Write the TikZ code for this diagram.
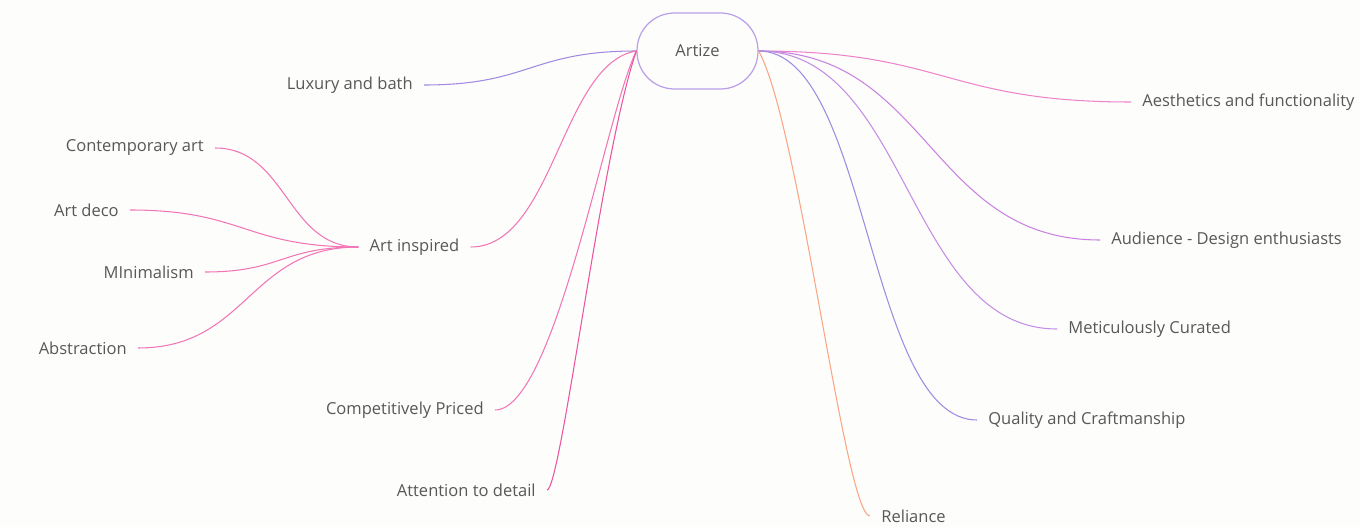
\documentclass[tikz,border=0pt]{standalone}
\usepackage{fontspec}
\setmainfont{Open Sans}
\usetikzlibrary{positioning}
\definecolor{txtgrey}{RGB}{88,88,88}
\definecolor{bgwhite}{RGB}{253,253,251}
\definecolor{boxlav}{RGB}{185,160,232}
\definecolor{purpline}{RGB}{160,138,226}
\definecolor{pinkline}{RGB}{242,118,182}
\definecolor{deeppink}{RGB}{236,84,160}
\definecolor{rosyline}{RGB}{238,132,204}
\definecolor{mauveline}{RGB}{202,130,226}
\definecolor{lilacline}{RGB}{196,142,230}
\definecolor{peachline}{RGB}{250,166,132}

\begin{document}
\begin{tikzpicture}[x=0.02cm,y=-0.02cm,
	topic/.style={text=txtgrey,font=\fontsize{9.4}{11}\selectfont,inner xsep=0.22cm,inner ysep=2pt},
	branch/.style={line width=0.6pt}]
	\fill[bgwhite] (0,0) rectangle (1360,527);
	\useasboundingbox (0,0) rectangle (1360,527);
	% centre
	\node[topic,draw=boxlav,line width=0.7pt,rounded corners=0.75cm,
		minimum width=2.42cm,minimum height=1.52cm] (artize) at (697.5,51) {Artize};
	% left side
	\node[topic,anchor=east] (lux) at (424,85) {Luxury and bath};
	\node[topic] (artinsp) at (414.5,247) {Art inspired};
	\node[topic,anchor=east] (price) at (495,410) {Competitively Priced};
	\node[topic,anchor=east] (detail) at (547,490) {Attention to detail};
	\node[topic,anchor=east] (contemp) at (215,148) {Contemporary art};
	\node[topic,anchor=east] (deco) at (130,210) {Art deco};
	\node[topic,anchor=east] (minim) at (205,272) {MInimalism};
	\node[topic,anchor=east] (abstr) at (138,348) {Abstraction};
	% right side
	\node[topic,anchor=west] (aesth) at (1131,102) {Aesthetics and functionality};
	\node[topic,anchor=west] (aud) at (1100,240) {Audience - Design enthusiasts};
	\node[topic,anchor=west] (curated) at (1057,329) {Meticulously Curated};
	\node[topic,anchor=west] (quality) at (977,420) {Quality and Craftmanship};
	\node[topic,anchor=west] (reliance) at (870,516) {Reliance};
	% branches into the centre
	\foreach \N/\C/\P/\Q in {lux/purpline/{106,0}/{-106,0},artinsp/pinkline/{83,0}/{-75,12},
		price/pinkline/{60,0}/{-30,60},detail/deeppink/{14,0}/{-35,100}}
	{\draw[branch,\C] (\N.east) .. controls +(\P) and +(\Q) .. (artize.west);}
	\foreach \N/\D in {contemp/72,deco/114,minim/77,abstr/110}
	{\draw[branch,pinkline] (\N.east) .. controls +(\D,0) and +(-\D,0) .. (artinsp.west);}
	\foreach \N/\C/\P/\Q in {aesth/rosyline/{186,0}/{-186,0},aud/mauveline/{171,0}/{-171,0},
		curated/lilacline/{150,0}/{-150,0},quality/purpline/{110,0}/{-110,0},
		reliance/peachline/{40,70}/{-25,0}}
	{\draw[branch,\C] (artize.east) .. controls +(\P) and +(\Q) .. (\N.west);}
\end{tikzpicture}
\end{document}
